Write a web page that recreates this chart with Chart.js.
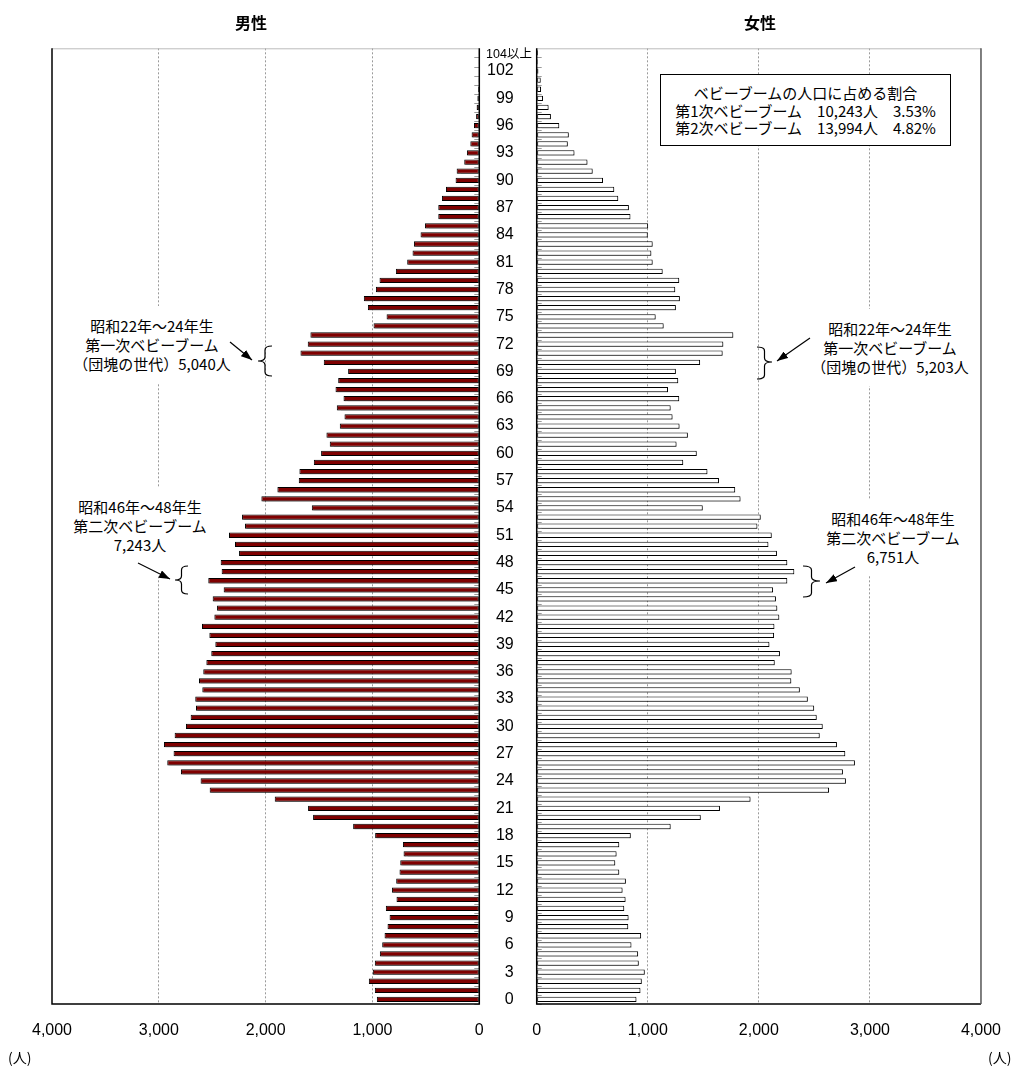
<!DOCTYPE html>
<html lang="ja">
<head>
<meta charset="utf-8">
<title>男女別・年齢別人口</title>
<script src="https://cdn.jsdelivr.net/npm/chart.js@4/dist/chart.umd.min.js"></script>
<style>
  body { margin: 0; background: #fff; }
  #wrap { position: relative; width: 1018px; height: 1066px; overflow: hidden;
          font-family: "Noto Sans CJK JP", sans-serif; color: #000; }
  canvas { position: absolute; top: 0; }
  #maleChart { left: 0; }
  #femaleChart { left: 440px; }
  .title { position: absolute; top: 12px; font-size: 16px; font-weight: bold; line-height: 20px;
           transform: translateX(-50%); }
  .note { position: absolute; background: #fff; font-size: 15px; line-height: 19px; text-align: center;
          padding: 10px 8px; transform: translateX(-50%); white-space: nowrap; }
  #box { position: absolute; left: 660px; top: 74px; width: 289px; height: 69px; background: #fff;
         border: 1.5px solid #000; font-size: 15px; line-height: 17.5px; text-align: center;
         padding-top: 1px; box-sizing: content-box; white-space: nowrap; }
  .unit { position: absolute; top: 1048px; font-size: 14px; line-height: 18px; }
  #top104 { position: absolute; left: 509px; top: 46px; font-size: 12.5px; line-height: 16px;
            transform: translateX(-50%); font-family: "Liberation Sans", "Noto Sans CJK JP", sans-serif; }
  svg { position: absolute; left: 0; top: 0; }
</style>
</head>
<body>
<div id="wrap">
  <canvas id="maleChart" width="500" height="1066"></canvas>
  <canvas id="femaleChart" width="578" height="1066"></canvas>

  <div class="title" style="left:251px">男性</div>
  <div class="title" style="left:760px">女性</div>

  <div id="box"><div style="padding-top:8px">ベビーブームの人口に占める割合</div>
    <div>第1次ベビーブーム　10,243人　3.53%</div>
    <div>第2次ベビーブーム　13,994人　4.82%</div></div>

  <div class="note" style="left:152px; top:306px">昭和22年～24年生<br>第一次ベビーブーム<br>（団塊の世代）5,040人</div>
  <div class="note" style="left:140px; top:487px; padding-bottom:22px">昭和46年～48年生<br>第二次ベビーブーム<br>7,243人</div>
  <div class="note" style="left:890px; top:309px">昭和22年～24年生<br>第一次ベビーブーム<br>（団塊の世代）5,203人</div>
  <div class="note" style="left:893px; top:499px">昭和46年～48年生<br>第二次ベビーブーム<br>6,751人</div>

  <div id="top104">104以上</div>
  <div class="unit" style="left:8px">(人)</div>
  <div class="unit" style="left:988px">(人)</div>

  <svg width="1018" height="1066">
    <defs>
      <marker id="ah" markerWidth="11" markerHeight="8" refX="11" refY="4" orient="auto" markerUnits="userSpaceOnUse">
        <path d="M0,0 L11,4 L0,8 z" fill="#000"/>
      </marker>
    </defs>
    <g stroke="#000" stroke-width="1.2" fill="none">
      <path d="M230,342 L252,360" marker-end="url(#ah)"/>
      <path d="M138,563 L170,579" marker-end="url(#ah)"/>
      <path d="M810,338 L777,361" marker-end="url(#ah)"/>
      <path d="M855,567 L826,583" marker-end="url(#ah)"/>
      <path id="b1"/><path id="b2"/><path id="b3"/><path id="b4"/>
    </g>
  </svg>
</div>

<script>
// 年齢 0〜103歳, 104歳以上
const ages = [];
for (let a = 0; a <= 103; a++) ages.push(String(a));
ages.push('104以上');

// 男性（人） 0歳〜104以上
const maleValues = [
  959, 978, 1034, 997, 978, 931, 909, 887, 859, 840,
  875, 775, 818, 778, 747, 740, 709, 715, 975, 1181,
  1556, 1603, 1915, 2524, 2609, 2793, 2921, 2862, 2952, 2852,
  2746, 2702, 2652, 2659, 2593, 2624, 2584, 2555, 2509, 2471,
  2527, 2596, 2480, 2455, 2496, 2393, 2537, 2412, 2421, 2249,
  2287, 2343, 2193, 2221, 1568, 2040, 1890, 1690, 1684, 1549,
  1481, 1400, 1431, 1306, 1262, 1334, 1271, 1346, 1321, 1228,
  1456, 1674, 1606, 1581, 990, 868, 1043, 1081, 968, 934,
  781, 675, 625, 612, 550, 509, 384, 384, 350, 312,
  222, 212, 141, 116, 84, 72, 50, 30, 25, 18,
  12, 8, 5, 3, 2
];

// 女性（人） 0歳〜104以上
const femaleValues = [
  898, 934, 946, 973, 919, 913, 853, 940, 824, 827,
  788, 800, 773, 803, 743, 707, 719, 743, 847, 1206,
  1477, 1650, 1925, 2632, 2784, 2757, 2865, 2778, 2703, 2548,
  2575, 2521, 2498, 2441, 2369, 2292, 2295, 2143, 2190, 2095,
  2137, 2140, 2184, 2166, 2154, 2128, 2256, 2319, 2256, 2163,
  2086, 2116, 1987, 2017, 1495, 1835, 1787, 1641, 1537, 1319,
  1441, 1259, 1361, 1286, 1223, 1206, 1283, 1182, 1274, 1253,
  1471, 1674, 1680, 1770, 1143, 1071, 1253, 1289, 1247, 1283,
  1134, 1044, 1032, 1044, 1000, 1003, 844, 830, 734, 698,
  597, 504, 457, 340, 280, 289, 203, 128, 107, 57,
  39, 36, 15, 10, 12
];

const xTicks = [0, 1000, 2000, 3000, 4000];

// braces next to the baby boom notes
function brace(tipX, backX, y1, y2, ym) {
  const mx = (tipX + backX) / 2, r = 4;
  return `M${backX},${y1} Q${mx},${y1} ${mx},${y1 + r} L${mx},${ym - r} Q${mx},${ym} ${tipX},${ym} ` +
         `Q${mx},${ym} ${mx},${ym + r} L${mx},${y2 - r} Q${mx},${y2} ${backX},${y2}`;
}
document.getElementById('b1').setAttribute('d', brace(258, 272, 346, 376, 361));
document.getElementById('b2').setAttribute('d', brace(175, 188, 566, 594, 580));
document.getElementById('b3').setAttribute('d', brace(772, 757, 347, 379, 362));
document.getElementById('b4').setAttribute('d', brace(820, 803, 566, 597, 581));

// shadow under bars + plot frame + small category ticks on the zero line
const framePlugin = {
  id: 'frame',
  beforeDatasetsDraw(chart) {
    const ctx = chart.ctx;
    ctx.save();
    ctx.shadowColor = 'rgba(0,0,0,0.3)';
    ctx.shadowOffsetX = 1.5;
    ctx.shadowOffsetY = 1.5;
    ctx.shadowBlur = 1;
  },
  afterDatasetsDraw(chart, args, opts) {
    const ctx = chart.ctx;
    ctx.restore();
    const a = chart.chartArea;
    const y = chart.scales.y;
    const isLeft = opts.side === 'left';
    const zeroX = isLeft ? a.right : a.left;
    const dir = isLeft ? -1 : 1;
    const half = Math.abs(y.getPixelForValue(1) - y.getPixelForValue(0)) / 2;
    ctx.save();
    ctx.lineWidth = 1;
    ctx.strokeStyle = '#9a9a9a';
    for (let i = 0; i < ages.length; i++) {
      const py = Math.round(y.getPixelForValue(i) + half) + 0.5;
      ctx.beginPath();
      ctx.moveTo(zeroX, py);
      ctx.lineTo(zeroX + dir * 5, py);
      ctx.stroke();
    }
    // top
    ctx.strokeStyle = '#bbbbbb';
    ctx.beginPath();
    ctx.moveTo(a.left, a.top + 0.5);
    ctx.lineTo(a.right, a.top + 0.5);
    ctx.stroke();
    ctx.strokeStyle = '#000';
    ctx.lineWidth = 1.5;
    ctx.beginPath();
    ctx.moveTo(a.left, a.top);
    ctx.lineTo(a.left, a.bottom);
    ctx.lineTo(a.right, a.bottom);
    if (isLeft) ctx.lineTo(a.right, a.top);
    ctx.stroke();
    if (!isLeft) {
      ctx.strokeStyle = '#555';
      ctx.beginPath();
      ctx.moveTo(a.right, a.top);
      ctx.lineTo(a.right, a.bottom);
      ctx.stroke();
    }
    ctx.restore();
  }
};

const tickFont = { family: '"Liberation Sans", Arial, sans-serif', size: 16 };

function xScale(reverse) {
  return {
    reverse: reverse,
    min: 0,
    max: 4000,
    afterBuildTicks: (s) => { s.ticks = xTicks.map(v => ({ value: v })); },
    afterFit: (s) => { s.height = 40; },
    grid: {
      drawTicks: false,
      color: (c) => (c.tick && (c.tick.value === 0 || c.tick.value === 4000)) ? 'rgba(0,0,0,0)' : '#9a9a9a',
      lineWidth: 1
    },
    border: { display: false, dash: [2, 2] },
    ticks: { color: '#000', font: tickFont, padding: 17, maxRotation: 0 }
  };
}

const maleChart = new Chart(document.getElementById('maleChart'), {
  type: 'bar',
  data: {
    labels: ages,
    datasets: [{
      label: '男性',
      data: maleValues,
      backgroundColor: '#7f0000',
      borderColor: '#000',
      borderWidth: 1,
      borderSkipped: false,
      barPercentage: 0.58,
      categoryPercentage: 1.0
    }]
  },
  options: {
    indexAxis: 'y',
    responsive: false,
    animation: false,
    layout: { padding: { left: 52, right: 20.7, top: 48.3, bottom: 22 } },
    plugins: {
      legend: { display: false },
      tooltip: { enabled: false },
      frame: { side: 'left' }
    },
    scales: {
      x: xScale(true),
      y: { display: false, reverse: true }
    }
  },
  plugins: [framePlugin]
});

const femaleChart = new Chart(document.getElementById('femaleChart'), {
  type: 'bar',
  data: {
    labels: ages,
    datasets: [{
      label: '女性',
      data: femaleValues,
      backgroundColor: '#ffffff',
      borderColor: '#000',
      borderWidth: 1,
      borderSkipped: false,
      barPercentage: 0.58,
      categoryPercentage: 1.0
    }]
  },
  options: {
    indexAxis: 'y',
    responsive: false,
    animation: false,
    layout: { padding: { left: 36.7, right: 34.7, top: 48.3, bottom: 22 } },
    plugins: {
      legend: { display: false },
      tooltip: { enabled: false },
      frame: { side: 'right' }
    },
    scales: {
      x: xScale(false),
      y: {
        reverse: true,
        afterFit: (s) => { s.width = 60; },
        grid: { display: false },
        border: { display: false },
        ticks: {
          autoSkip: false,
          color: '#000',
          font: tickFont,
          padding: 15,
          callback: function (value, index) {
            return (index % 3 === 0 && index < 104) ? this.getLabelForValue(value) : '';
          }
        }
      }
    }
  },
  plugins: [framePlugin]
});
</script>
</body>
</html>
